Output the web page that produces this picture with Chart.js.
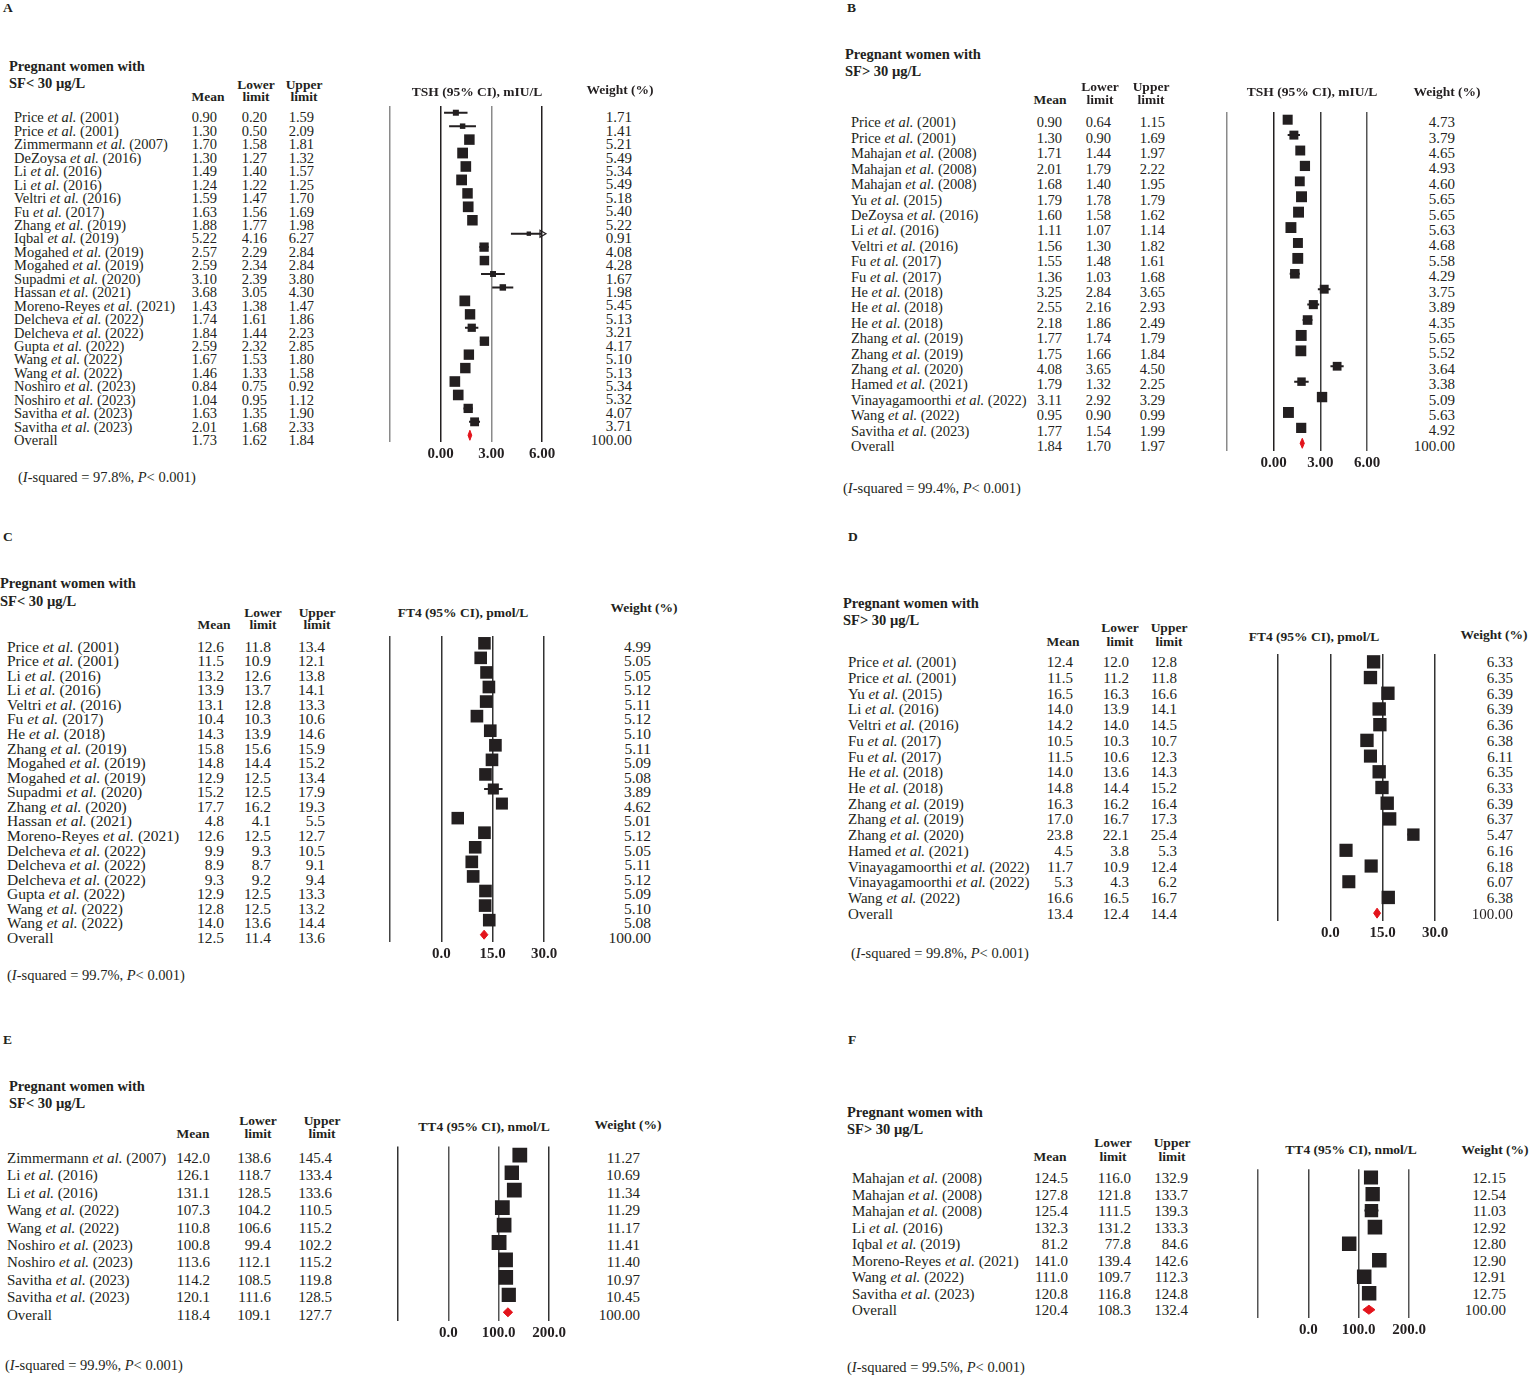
<!DOCTYPE html>
<html>
<head>
<meta charset="utf-8">
<script src="https://cdn.jsdelivr.net/npm/chart.js@4.4.1/dist/chart.umd.min.js"></script>
<style>
  body { margin: 0; background: #fff; }
  #page { position: relative; width: 1529px; height: 1377px; overflow: hidden; background: #fff;
          font-family: "Liberation Serif", "Times New Roman", serif; color: #231f20; }
  #page canvas { position: absolute; }
  .t { position: absolute; white-space: nowrap; line-height: 1; }
</style>
</head>
<body>
<div id="page"></div>
<script>
// A: TSH, SF < 30
const A_STUDIES = ['Price et al. (2001)', 'Price et al. (2001)', 'Zimmermann et al. (2007)', 'DeZoysa et al. (2016)',
  'Li et al. (2016)', 'Li et al. (2016)', 'Veltri et al. (2016)', 'Fu et al. (2017)', 'Zhang et al. (2019)',
  'Iqbal et al. (2019)', 'Mogahed et al. (2019)', 'Mogahed et al. (2019)', 'Supadmi et al. (2020)',
  'Hassan et al. (2021)', 'Moreno-Reyes et al. (2021)', 'Delcheva et al. (2022)', 'Delcheva et al. (2022)',
  'Gupta et al. (2022)', 'Wang et al. (2022)', 'Wang et al. (2022)', 'Noshiro et al. (2023)',
  'Noshiro et al. (2023)', 'Savitha et al. (2023)', 'Savitha et al. (2023)', 'Overall'];
const A_MEAN = [0.90, 1.30, 1.70, 1.30, 1.49, 1.24, 1.59, 1.63, 1.88, 5.22, 2.57, 2.59, 3.10, 3.68, 1.43, 1.74, 1.84, 2.59, 1.67, 1.46, 0.84, 1.04, 1.63, 2.01, 1.73];
const A_LOWER = [0.20, 0.50, 1.58, 1.27, 1.40, 1.22, 1.47, 1.56, 1.77, 4.16, 2.29, 2.34, 2.39, 3.05, 1.38, 1.61, 1.44, 2.32, 1.53, 1.33, 0.75, 0.95, 1.35, 1.68, 1.62];
const A_UPPER = [1.59, 2.09, 1.81, 1.32, 1.57, 1.25, 1.70, 1.69, 1.98, 6.27, 2.84, 2.84, 3.80, 4.30, 1.47, 1.86, 2.23, 2.85, 1.80, 1.58, 0.92, 1.12, 1.90, 2.33, 1.84];
const A_WEIGHT = [1.71, 1.41, 5.21, 5.49, 5.34, 5.49, 5.18, 5.40, 5.22, 0.91, 4.08, 4.28, 1.67, 1.98, 5.45, 5.13, 3.21, 4.17, 5.10, 5.13, 5.34, 5.32, 4.07, 3.71, 100.00];
const A_I2 = 97.8;

// B: TSH, SF > 30
const B_STUDIES = ['Price et al. (2001)', 'Price et al. (2001)', 'Mahajan et al. (2008)', 'Mahajan et al. (2008)',
  'Mahajan et al. (2008)', 'Yu et al. (2015)', 'DeZoysa et al. (2016)', 'Li et al. (2016)', 'Veltri et al. (2016)',
  'Fu et al. (2017)', 'Fu et al. (2017)', 'He et al. (2018)', 'He et al. (2018)', 'He et al. (2018)',
  'Zhang et al. (2019)', 'Zhang et al. (2019)', 'Zhang et al. (2020)', 'Hamed et al. (2021)',
  'Vinayagamoorthi et al. (2022)', 'Wang et al. (2022)', 'Savitha et al. (2023)', 'Overall'];
const B_MEAN = [0.90, 1.30, 1.71, 2.01, 1.68, 1.79, 1.60, 1.11, 1.56, 1.55, 1.36, 3.25, 2.55, 2.18, 1.77, 1.75, 4.08, 1.79, 3.11, 0.95, 1.77, 1.84];
const B_LOWER = [0.64, 0.90, 1.44, 1.79, 1.40, 1.78, 1.58, 1.07, 1.30, 1.48, 1.03, 2.84, 2.16, 1.86, 1.74, 1.66, 3.65, 1.32, 2.92, 0.90, 1.54, 1.70];
const B_UPPER = [1.15, 1.69, 1.97, 2.22, 1.95, 1.79, 1.62, 1.14, 1.82, 1.61, 1.68, 3.65, 2.93, 2.49, 1.79, 1.84, 4.50, 2.25, 3.29, 0.99, 1.99, 1.97];
const B_WEIGHT = [4.73, 3.79, 4.65, 4.93, 4.60, 5.65, 5.65, 5.63, 4.68, 5.58, 4.29, 3.75, 3.89, 4.35, 5.65, 5.52, 3.64, 3.38, 5.09, 5.63, 4.92, 100.00];
const B_I2 = 99.4;

// C: FT4, SF < 30
const C_STUDIES = ['Price et al. (2001)', 'Price et al. (2001)', 'Li et al. (2016)', 'Li et al. (2016)',
  'Veltri et al. (2016)', 'Fu et al. (2017)', 'He et al. (2018)', 'Zhang et al. (2019)', 'Mogahed et al. (2019)',
  'Mogahed et al. (2019)', 'Supadmi et al. (2020)', 'Zhang et al. (2020)', 'Hassan et al. (2021)',
  'Moreno-Reyes et al. (2021)', 'Delcheva et al. (2022)', 'Delcheva et al. (2022)', 'Delcheva et al. (2022)',
  'Gupta et al. (2022)', 'Wang et al. (2022)', 'Wang et al. (2022)', 'Overall'];
const C_MEAN = [12.6, 11.5, 13.2, 13.9, 13.1, 10.4, 14.3, 15.8, 14.8, 12.9, 15.2, 17.7, 4.8, 12.6, 9.9, 8.9, 9.3, 12.9, 12.8, 14.0, 12.5];
const C_LOWER = [11.8, 10.9, 12.6, 13.7, 12.8, 10.3, 13.9, 15.6, 14.4, 12.5, 12.5, 16.2, 4.1, 12.5, 9.3, 8.7, 9.2, 12.5, 12.5, 13.6, 11.4];
const C_UPPER = [13.4, 12.1, 13.8, 14.1, 13.3, 10.6, 14.6, 15.9, 15.2, 13.4, 17.9, 19.3, 5.5, 12.7, 10.5, 9.1, 9.4, 13.3, 13.2, 14.4, 13.6];
const C_WEIGHT = [4.99, 5.05, 5.05, 5.12, 5.11, 5.12, 5.10, 5.11, 5.09, 5.08, 3.89, 4.62, 5.01, 5.12, 5.05, 5.11, 5.12, 5.09, 5.10, 5.08, 100.00];
const C_I2 = 99.7;

// D: FT4, SF > 30
const D_STUDIES = ['Price et al. (2001)', 'Price et al. (2001)', 'Yu et al. (2015)', 'Li et al. (2016)',
  'Veltri et al. (2016)', 'Fu et al. (2017)', 'Fu et al. (2017)', 'He et al. (2018)', 'He et al. (2018)',
  'Zhang et al. (2019)', 'Zhang et al. (2019)', 'Zhang et al. (2020)', 'Hamed et al. (2021)',
  'Vinayagamoorthi et al. (2022)', 'Vinayagamoorthi et al. (2022)', 'Wang et al. (2022)', 'Overall'];
const D_MEAN = [12.4, 11.5, 16.5, 14.0, 14.2, 10.5, 11.5, 14.0, 14.8, 16.3, 17.0, 23.8, 4.5, 11.7, 5.3, 16.6, 13.4];
const D_LOWER = [12.0, 11.2, 16.3, 13.9, 14.0, 10.3, 10.6, 13.6, 14.4, 16.2, 16.7, 22.1, 3.8, 10.9, 4.3, 16.5, 12.4];
const D_UPPER = [12.8, 11.8, 16.6, 14.1, 14.5, 10.7, 12.3, 14.3, 15.2, 16.4, 17.3, 25.4, 5.3, 12.4, 6.2, 16.7, 14.4];
const D_WEIGHT = [6.33, 6.35, 6.39, 6.39, 6.36, 6.38, 6.11, 6.35, 6.33, 6.39, 6.37, 5.47, 6.16, 6.18, 6.07, 6.38, 100.00];
const D_I2 = 99.8;

// E: TT4, SF < 30
const E_STUDIES = ['Zimmermann et al. (2007)', 'Li et al. (2016)', 'Li et al. (2016)', 'Wang et al. (2022)',
  'Wang et al. (2022)', 'Noshiro et al. (2023)', 'Noshiro et al. (2023)', 'Savitha et al. (2023)',
  'Savitha et al. (2023)', 'Overall'];
const E_MEAN = [142.0, 126.1, 131.1, 107.3, 110.8, 100.8, 113.6, 114.2, 120.1, 118.4];
const E_LOWER = [138.6, 118.7, 128.5, 104.2, 106.6, 99.4, 112.1, 108.5, 111.6, 109.1];
const E_UPPER = [145.4, 133.4, 133.6, 110.5, 115.2, 102.2, 115.2, 119.8, 128.5, 127.7];
const E_WEIGHT = [11.27, 10.69, 11.34, 11.29, 11.17, 11.41, 11.40, 10.97, 10.45, 100.00];
const E_I2 = 99.9;

// F: TT4, SF > 30
const F_STUDIES = ['Mahajan et al. (2008)', 'Mahajan et al. (2008)', 'Mahajan et al. (2008)', 'Li et al. (2016)',
  'Iqbal et al. (2019)', 'Moreno-Reyes et al. (2021)', 'Wang et al. (2022)', 'Savitha et al. (2023)', 'Overall'];
const F_MEAN = [124.5, 127.8, 125.4, 132.3, 81.2, 141.0, 111.0, 120.8, 120.4];
const F_LOWER = [116.0, 121.8, 111.5, 131.2, 77.8, 139.4, 109.7, 116.8, 108.3];
const F_UPPER = [132.9, 133.7, 139.3, 133.3, 84.6, 142.6, 112.3, 124.8, 132.4];
const F_WEIGHT = [12.15, 12.54, 11.03, 12.92, 12.80, 12.90, 12.91, 12.75, 100.00];
const F_I2 = 99.5;

const INK = '#231f20';
const RED = '#e3141c';
const FONT = '"Liberation Serif", "Times New Roman", serif';
const PADX = 40, PADT = 10, PADB = 10, AXIS_H = 26;
const page = document.getElementById('page');

// layout of each panel, in page pixels
const panels = [
  { letter: 'A', lx: 3, ly: 8, study: A_STUDIES, mean: A_MEAN, lower: A_LOWER, upper: A_UPPER, weight: A_WEIGHT, i2: A_I2,
    dec: 2, step: 3, title: 'TSH (95% CI), mIU/L', sf: 'SF&lt; 30 µg/L',
    box: { left: 390, right: 542, top: 106, bottom: 442 }, fs: 14.5, wfs: 15, dy: 5, sq: 4.6, dia: 5, ci: 2,
    grid: ['#8a8a8a', INK, '#8a8a8a', INK],
    gx: 9, gy: [66, 83], nameX: 14, cols: [217, 267, 314], heads: [208, 256, 304], hy: [85, 97],
    titleAt: [477, 92], wHead: [620, 90], wX: 632, foot: [18, 477] },
  { letter: 'B', lx: 847, ly: 8, study: B_STUDIES, mean: B_MEAN, lower: B_LOWER, upper: B_UPPER, weight: B_WEIGHT, i2: B_I2,
    dec: 2, step: 3, title: 'TSH (95% CI), mIU/L', sf: 'SF&gt; 30 µg/L',
    box: { left: 1227, right: 1367, top: 112, bottom: 451 }, fs: 14.5, wfs: 15, dy: 3, sq: 4.6, dia: 5, ci: 2,
    grid: ['#8a8a8a', INK, '#3a3a3a', '#555'],
    gx: 845, gy: [54, 71], nameX: 851, cols: [1062, 1111, 1165], heads: [1050, 1100, 1151], hy: [87, 100],
    titleAt: [1312, 92], wHead: [1447, 92], wX: 1455, foot: [843, 488] },
  { letter: 'C', lx: 3, ly: 537, study: C_STUDIES, mean: C_MEAN, lower: C_LOWER, upper: C_UPPER, weight: C_WEIGHT, i2: C_I2,
    dec: 1, step: 15, title: 'FT4 (95% CI), pmol/L', sf: 'SF&lt; 30 µg/L',
    box: { left: 390, right: 544, top: 636, bottom: 942 }, fs: 15.5, wfs: 15.5, dy: 3, sq: 5.6, dia: 4.5, ci: 2,
    grid: ['#444', '#333', '#333', '#333'],
    gx: 0, gy: [583, 601], nameX: 7, cols: [224, 271, 325], heads: [214, 263, 317], hy: [613, 625],
    titleAt: [463, 613], wHead: [644, 608], wX: 651, foot: [7, 975] },
  { letter: 'D', lx: 848, ly: 537, study: D_STUDIES, mean: D_MEAN, lower: D_LOWER, upper: D_UPPER, weight: D_WEIGHT, i2: D_I2,
    dec: 1, step: 15, title: 'FT4 (95% CI), pmol/L', sf: 'SF&gt; 30 µg/L',
    box: { left: 1278, right: 1435, top: 654, bottom: 921 }, fs: 15, wfs: 15, dy: 1, sq: 5.3, dia: 5, ci: 2,
    grid: ['#333', '#333', '#333', '#333'],
    gx: 843, gy: [603, 620], nameX: 848, cols: [1073, 1129, 1177], heads: [1063, 1120, 1169], hy: [628, 642],
    titleAt: [1314, 637], wHead: [1494, 635], wX: 1513, foot: [851, 953] },
  { letter: 'E', lx: 3, ly: 1040, study: E_STUDIES, mean: E_MEAN, lower: E_LOWER, upper: E_UPPER, weight: E_WEIGHT, i2: E_I2,
    dec: 1, step: 100, title: 'TT4 (95% CI), nmol/L', sf: 'SF&lt; 30 µg/L',
    box: { left: 398, right: 549, top: 1146, bottom: 1321 }, fs: 15, wfs: 15, dy: 3, sq: 4.4, dia: 4.5, ci: 2,
    grid: ['#333', '#555', '#555', '#333'],
    gx: 9, gy: [1086, 1103], nameX: 7, cols: [210, 271, 332], heads: [193, 258, 322], hy: [1121, 1134],
    titleAt: [484, 1127], wHead: [628, 1125], wX: 640, foot: [5, 1365] },
  { letter: 'F', lx: 848, ly: 1040, study: F_STUDIES, mean: F_MEAN, lower: F_LOWER, upper: F_UPPER, weight: F_WEIGHT, i2: F_I2,
    dec: 1, step: 100, title: 'TT4 (95% CI), nmol/L', sf: 'SF&gt; 30 µg/L',
    box: { left: 1258, right: 1409, top: 1169, bottom: 1318 }, fs: 15, wfs: 15, dy: 1, sq: 4.05, dia: 4.5, ci: 2,
    grid: ['#555', '#444', '#444', '#555'],
    gx: 847, gy: [1112, 1129], nameX: 852, cols: [1068, 1131, 1188], heads: [1050, 1113, 1172], hy: [1143, 1157],
    titleAt: [1351, 1150], wHead: [1495, 1150], wX: 1506, foot: [847, 1367] }
];

function put(x, y, html, align, size, bold) {
  const d = document.createElement('div');
  d.className = 't';
  d.style.fontSize = size + 'px';
  if (bold) d.style.fontWeight = 'bold';
  d.style.left = x + 'px';
  d.style.top = (y - size / 2) + 'px';
  if (align === 'right') d.style.transform = 'translateX(-100%)';
  if (align === 'center') d.style.transform = 'translateX(-50%)';
  d.innerHTML = html;
  page.appendChild(d);
}

function drawPanel(p) {
  const n = p.study.length;
  const last = n - 1;
  const b = p.box;
  const w = b.right - b.left + 2 * PADX;
  const h = b.bottom - b.top + PADT + PADB + AXIS_H;
  const canvas = document.createElement('canvas');
  canvas.width = w;
  canvas.height = h;
  canvas.style.left = (b.left - PADX) + 'px';
  canvas.style.top = (b.top - PADT) + 'px';
  page.appendChild(canvas);

  const xmin = -p.step, xmax = 2 * p.step;
  const rows = p.study.map((s, i) => i).slice(0, last);
  const half = p.dia / ((b.bottom - b.top) / n);

  const chart = new Chart(canvas, {
    type: 'scatter',
    data: {
      datasets: [
        { // study estimates, square area ~ weight
          data: rows.map(i => ({ x: p.mean[i], y: i })),
          pointStyle: 'rect',
          pointRadius: rows.map(i => p.sq * Math.sqrt(p.weight[i]) / Math.SQRT2),
          backgroundColor: INK,
          borderWidth: 0
        },
        { // arrow where the CI runs off the axis
          data: rows.filter(i => p.upper[i] > xmax).map(i => ({ x: xmax, y: i })),
          pointStyle: 'triangle',
          rotation: 90,
          pointRadius: 4,
          backgroundColor: 'rgba(0,0,0,0)',
          borderColor: INK,
          borderWidth: 1.2,
          clip: false
        },
        { // confidence intervals
          type: 'line',
          data: rows.flatMap(i => [{ x: p.lower[i], y: i }, { x: p.upper[i], y: i }, { x: null, y: null }]),
          borderColor: INK,
          borderWidth: p.ci,
          pointRadius: 0,
          spanGaps: false,
          fill: false
        },
        { // pooled estimate diamond
          type: 'line',
          data: [
            { x: p.lower[last], y: last },
            { x: p.mean[last], y: last - half },
            { x: p.upper[last], y: last },
            { x: p.mean[last], y: last + half },
            { x: p.lower[last], y: last }
          ],
          borderColor: RED,
          backgroundColor: RED,
          borderWidth: 1,
          pointRadius: 0,
          fill: 'shape'
        }
      ]
    },
    options: {
      responsive: false,
      animation: false,
      events: [],
      layout: { padding: { left: PADX, right: PADX, top: PADT, bottom: PADB } },
      plugins: { legend: { display: false }, tooltip: { enabled: false } },
      scales: {
        x: {
          type: 'linear',
          min: xmin,
          max: xmax,
          border: { display: false },
          grid: { color: c => p.grid[c.index] || INK, lineWidth: 1.5, drawTicks: false },
          ticks: {
            stepSize: p.step,
            autoSkip: false,
            maxRotation: 0,
            padding: 3,
            color: INK,
            font: { family: FONT, size: 15, weight: 'bold' },
            callback: v => (v < 0 ? '' : Number(v).toFixed(p.dec))
          },
          afterFit: s => { s.height = AXIS_H; }
        },
        y: { type: 'linear', display: false, reverse: true, min: -0.5, max: n - 0.5 }
      }
    }
  });

  // table text, placed on the chart's own row positions
  const top0 = b.top - PADT;
  const ys = chart.scales.y;
  p.study.forEach((name, i) => {
    const y = top0 + ys.getPixelForValue(i) + p.dy;
    put(p.nameX, y, name.replace('et al.', '<i>et al.</i>'), 'left', p.fs);
    put(p.cols[0], y, p.mean[i].toFixed(p.dec), 'right', p.fs);
    put(p.cols[1], y, p.lower[i].toFixed(p.dec), 'right', p.fs);
    put(p.cols[2], y, p.upper[i].toFixed(p.dec), 'right', p.fs);
    put(p.wX, y, p.weight[i].toFixed(2), 'right', p.wfs);
  });

  put(p.lx, p.ly, p.letter, 'left', 13.5, true);
  put(p.gx, p.gy[0], 'Pregnant women with', 'left', 14.5, true);
  put(p.gx, p.gy[1], p.sf, 'left', 14.5, true);
  put(p.heads[0], p.hy[1], 'Mean', 'center', 13.5, true);
  put(p.heads[1], p.hy[0], 'Lower', 'center', 13.5, true);
  put(p.heads[1], p.hy[1], 'limit', 'center', 13.5, true);
  put(p.heads[2], p.hy[0], 'Upper', 'center', 13.5, true);
  put(p.heads[2], p.hy[1], 'limit', 'center', 13.5, true);
  put(p.titleAt[0], p.titleAt[1], p.title, 'center', 13.5, true);
  put(p.wHead[0], p.wHead[1], 'Weight (%)', 'center', 13.5, true);
  put(p.foot[0], p.foot[1], '(<i>I</i>-squared = ' + p.i2.toFixed(1) + '%, <i>P</i>&lt; 0.001)', 'left', 14.5);
}

panels.forEach(drawPanel);
</script>
</body>
</html>
